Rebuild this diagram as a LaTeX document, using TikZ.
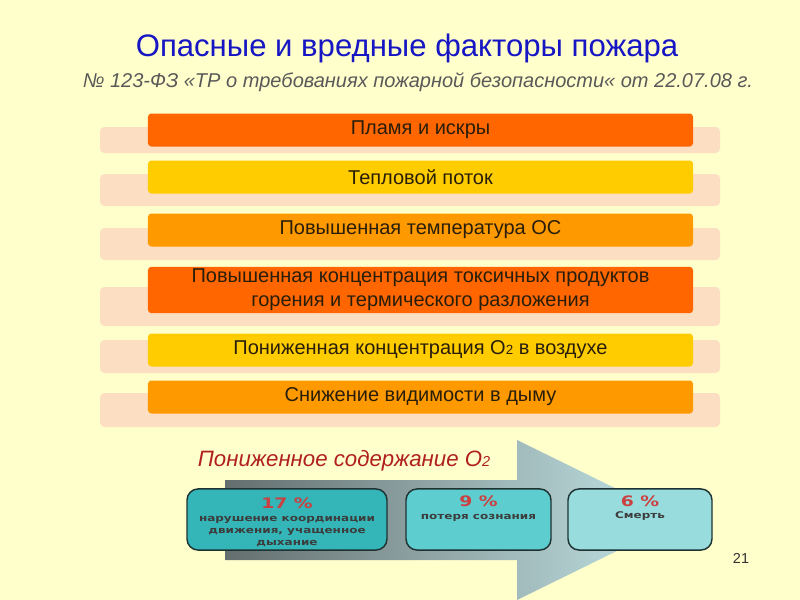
\documentclass[tikz,border=0pt]{standalone}
\usepackage{fontspec}
\setmainfont{Liberation Sans}
\newfontfamily\boxfont[FakeStretch=1.3]{DejaVu Sans}
\usetikzlibrary{positioning,calc}
\definecolor{slidebg}{RGB}{255,255,204}
\definecolor{titleblue}{RGB}{22,22,196}
\definecolor{subgray}{RGB}{89,89,89}
\definecolor{barback}{RGB}{252,222,194}
\definecolor{bartext}{RGB}{40,30,10}
\definecolor{fred}{RGB}{255,102,0}
\definecolor{fyellow}{RGB}{255,204,0}
\definecolor{forange}{RGB}{255,153,0}
\definecolor{o2red}{RGB}{176,32,32}
\definecolor{arrowdark}{RGB}{100,110,110}
\definecolor{arrowlight}{RGB}{196,230,232}
\definecolor{boxline}{RGB}{30,50,50}
\definecolor{tealA}{RGB}{52,182,184}
\definecolor{tealB}{RGB}{94,205,207}
\definecolor{tealC}{RGB}{152,220,222}
\definecolor{pctred}{RGB}{204,64,64}
\definecolor{boxtext}{RGB}{60,60,60}

\begin{document}
\begin{tikzpicture}[x=0.9pt,y=-0.9pt,
    bar/.style={rounded corners=3pt, minimum width=490.5pt, minimum height=29.7pt,
      inner sep=2pt, align=center, text=bartext, font=\fontsize{18}{21.6}\selectfont},
    backbar/.style={barback, rounded corners=4pt},
    stagebox/.style={draw=boxline, line width=1.3pt, rounded corners=10pt, minimum height=55pt},
    pct/.style={font=\boxfont\bfseries\fontsize{13}{14}\selectfont, text=pctred, inner sep=1pt},
    stagetxt/.style={font=\boxfont\bfseries\fontsize{8.3}{10.4}\selectfont, text=boxtext,
      align=center, inner sep=1pt}]
  \fill[slidebg] (0,0) rectangle (800,600);
  \useasboundingbox (0,0) rectangle (800,600);

  % headings
  \node[text=titleblue, font=\fontsize{28}{32}\selectfont] (title) at (407,48)
       {Опасные и вредные факторы пожара};
  \node[text=subgray, font=\fontsize{18}{20}\itshape] (law) at (418,82)
       {№ 123-ФЗ «ТР о требованиях пожарной безопасности« от 22.07.08 г.};

  % pale bars behind
  \fill[backbar] (100,127) rectangle (720,153);
  \fill[backbar] (100,174) rectangle (720,206);
  \fill[backbar] (100,228) rectangle (720,260);
  \fill[backbar] (100,287) rectangle (720,326);
  \fill[backbar] (100,340) rectangle (720,373);
  \fill[backbar] (100,393) rectangle (720,427);

  % factors
  \node[bar, fill=fred] (flame) at (420.5,130) {Пламя и искры};
  \node[bar, fill=fyellow] (heat) at (420.5,177) {Тепловой поток};
  \node[bar, fill=forange] (temp) at (420.5,230) {Повышенная температура ОС};
  \node[bar, fill=fred, minimum height=41.4pt] (toxic) at (420.5,290)
       {Повышенная концентрация токсичных продуктов\\горения и термического разложения};
  \node[bar, fill=fyellow] (oxygen) at (420.5,350)
       {Пониженная концентрация O{\fontsize{12}{12}\selectfont 2} в воздухе};
  \node[bar, fill=forange] (smoke) at (420.5,397) {Снижение видимости в дыму};

  % oxygen arrow
  \shade[left color=arrowdark, right color=arrowlight]
    (225,480) -- (517,480) -- (517,440) -- (680,520) -- (517,600) -- (517,560) -- (225,560) -- cycle;
  \node[text=o2red, font=\fontsize{20}{22}\itshape] (o2) at (344,461)
       {Пониженное содержание O{\fontsize{13}{13}\selectfont 2}};

  % stages
  \node[stagebox, fill=tealA, minimum width=180pt] (b17) at (287,519.5) {};
  \node[stagebox, fill=tealB, minimum width=130.5pt] (b9) at (478.5,519.5) {};
  \node[stagebox, fill=tealC, minimum width=129.6pt] (b6) at (640,519.5) {};

  \node[pct] (p17) at (b17.north |- 0,503) {17 \%};
  \node[stagetxt] (t17) at (b17.north |- 0,531.5) {нарушение координации\\движения, учащенное\\дыхание};
  \node[pct] (p9) at (b9.north |- 0,501) {9 \%};
  \node[stagetxt] (t9) at (b9.north |- 0,518) {потеря сознания};
  \node[pct] (p6) at (b6.north |- 0,501) {6 \%};
  \node[stagetxt] (t6) at (b6.north |- 0,516) {Смерть};

  \node[text=black!80, font=\fontsize{13}{14}\selectfont] (page) at (741,558) {21};
\end{tikzpicture}
\end{document}
